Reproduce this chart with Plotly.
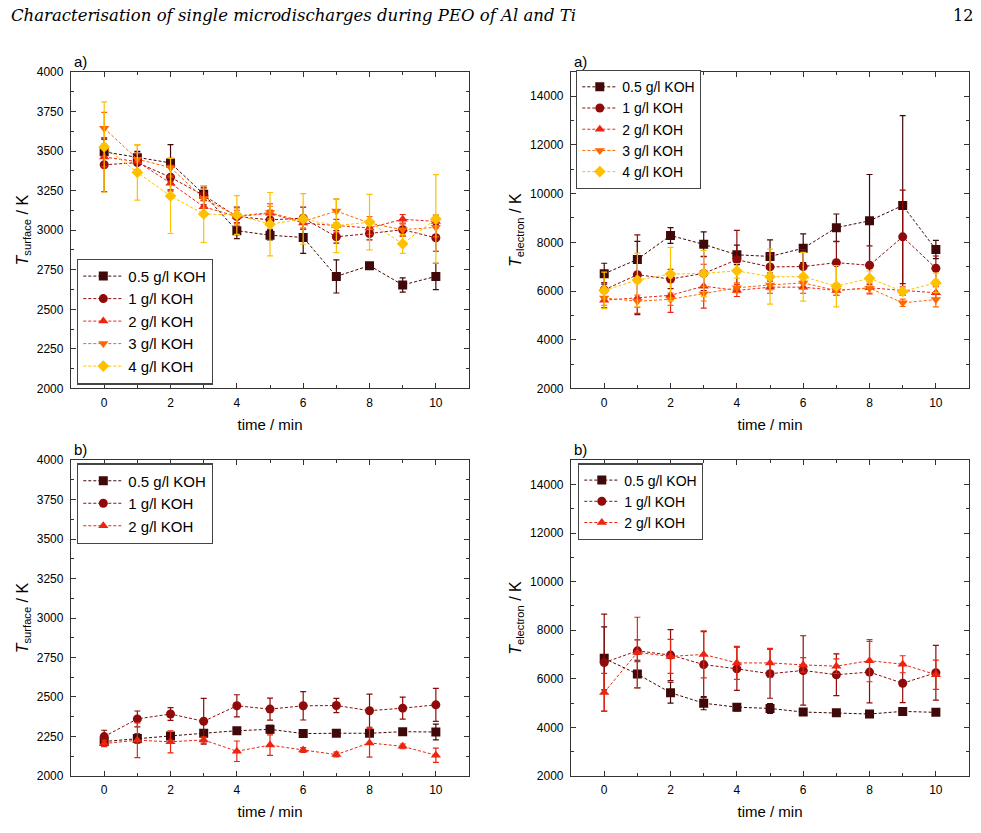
import plotly.graph_objects as go
from plotly.subplots import make_subplots

t = [0, 1, 2, 3, 4, 5, 6, 7, 8, 9, 10]

# a) surface temperature (Al), K
ts05 = [3495, 3458, 3425, 3227, 2997, 2968, 2954, 2708, 2776, 2654, 2708]
ts05_err = [80, 40, 115, 40, 50, 30, 100, 105, 15, 45, 83]
ts1 = [3413, 3427, 3334, 3220, 3086, 3065, 3076, 2958, 2979, 3003, 2952]
ts1_err = [170, 60, 80, 60, 60, 60, 70, 40, 40, 40, 85]
ts2 = [3462, 3433, 3297, 3148, 3086, 3107, 3045, 3028, 3014, 3069, 3055]
ts2_err = [60, 50, 50, 40, 40, 60, 40, 40, 40, 30, 40]
ts3 = [3644, 3448, 3396, 3200, 3090, 3111, 3055, 3121, 3045, 3003, 3018]
ts3_err = [100, 90, 60, 60, 50, 40, 40, 75, 40, 40, 60]
ts4 = [3526, 3365, 3216, 3102, 3096, 3038, 3071, 3028, 3051, 2914, 3071]
ts4_err = [285, 175, 237, 180, 122, 200, 160, 170, 175, 60, 280]

# a) electron temperature (Al), K
te05 = [6711, 7301, 8281, 7918, 7489, 7422, 7757, 8603, 8885, 9515, 7704]
te05_err = [430, 740, 320, 510, 400, 680, 590, 560, 1900, 3690, 375]
te1 = [6050, 6670, 6496, 6724, 7288, 6992, 7006, 7167, 7059, 8227, 6939]
te1_err = [300, 1640, 400, 700, 1200, 500, 700, 860, 800, 1920, 500]
te2 = [5623, 5717, 5825, 6200, 6026, 6160, 6160, 6026, 6133, 6026, 5932]
te2_err = [300, 630, 700, 900, 250, 250, 250, 200, 250, 150, 250]
te3 = [5717, 5583, 5663, 5892, 6133, 6254, 6335, 6026, 6120, 5516, 5650]
te3_err = [300, 250, 250, 300, 200, 200, 250, 200, 200, 150, 300]
te4 = [6026, 6455, 6697, 6724, 6831, 6590, 6590, 6200, 6523, 5986, 6335]
te4_err = [750, 1100, 1100, 950, 300, 1130, 1000, 850, 300, 150, 400]

# b) surface temperature (Ti), K
tsb05 = [2218, 2237, 2253, 2270, 2286, 2295, 2268, 2270, 2270, 2280, 2278]
tsb05_err = [30, 30, 20, 20, 20, 25, 25, 20, 20, 15, 50]
tsb1 = [2249, 2361, 2392, 2346, 2444, 2423, 2444, 2446, 2413, 2429, 2450]
tsb1_err = [40, 50, 40, 145, 70, 70, 90, 45, 105, 70, 105]
tsb2 = [2205, 2226, 2216, 2228, 2156, 2195, 2164, 2135, 2209, 2187, 2131]
tsb2_err = [20, 110, 70, 20, 65, 65, 15, 15, 90, 15, 45]

# b) electron temperature (Ti), K
teb05 = [6840, 6193, 5425, 4993, 4831, 4777, 4629, 4602, 4548, 4656, 4616]
teb05_err = [1300, 570, 430, 270, 150, 200, 80, 60, 60, 80, 80]
teb1 = [6665, 7150, 6975, 6584, 6409, 6207, 6342, 6166, 6274, 5816, 6247]
teb1_err = [2000, 450, 1050, 1360, 890, 1010, 1430, 860, 1270, 800, 1130]
teb2 = [5438, 7083, 6921, 7002, 6652, 6652, 6571, 6517, 6746, 6598, 6166]
teb2_err = [780, 1450, 700, 970, 680, 600, 300, 300, 870, 350, 600]

names = ["0.5 g/l KOH", "1 g/l KOH", "2 g/l KOH", "3 g/l KOH", "4 g/l KOH"]
colors = ["#400808", "#8f0a0a", "#ec2410", "#ff6600", "#ffc000"]
symbols = ["square", "circle", "triangle-up", "triangle-down", "diamond"]

panels = [
    (1, 1, "legend", [(ts05, ts05_err), (ts1, ts1_err), (ts2, ts2_err), (ts3, ts3_err), (ts4, ts4_err)]),
    (1, 2, "legend2", [(te05, te05_err), (te1, te1_err), (te2, te2_err), (te3, te3_err), (te4, te4_err)]),
    (2, 1, "legend3", [(tsb05, tsb05_err), (tsb1, tsb1_err), (tsb2, tsb2_err)]),
    (2, 2, "legend4", [(teb05, teb05_err), (teb1, teb1_err), (teb2, teb2_err)]),
]

fig = make_subplots(rows=2, cols=2)

for row, col, leg, series in panels:
    for i, (y, err) in enumerate(series):
        fig.add_trace(go.Scatter(
            x=t, y=y, name=names[i], legend=leg, mode="lines+markers",
            line=dict(color=colors[i], width=1, dash="3px,2px"),
            marker=dict(symbol=symbols[i], size=9, color=colors[i]),
            error_y=dict(type="data", array=err, color=colors[i], thickness=1.2, width=3),
        ), row=row, col=col)

font = "Liberation Sans, Arial, sans-serif"
axis_style = dict(showline=True, linecolor="#333", linewidth=1.3, mirror="allticks",
                  ticks="inside", ticklen=5, tickcolor="#333", showgrid=False, zeroline=False,
                  tickfont=dict(family=font, size=12, color="black"))

xdom = [[0.0724, 0.4781], [0.5821, 0.9878]]
ydom = [[0.5342, 0.9208], [0.0612, 0.4466]]
ytitles = ["<i>T</i><sub>surface</sub> / K", "<i>T</i><sub>electron</sub> / K"]

for row in (1, 2):
    for col in (1, 2):
        fig.update_xaxes(axis_style, domain=xdom[col - 1], range=[-1, 11], dtick=2, tick0=0,
                         ticklabelstandoff=3,
                         minor=dict(ticks="inside", ticklen=3, dtick=1, tickcolor="#333"),
                         title=dict(text="time / min", font=dict(family=font, size=15, color="black"), standoff=10),
                         row=row, col=col)
        if col == 1:
            yopts = dict(range=[2000, 4000], dtick=250, tick0=2000,
                         minor=dict(ticks="inside", ticklen=3, dtick=125, tickcolor="#333"))
        else:
            yopts = dict(range=[2000, 15000], dtick=2000, tick0=2000, tickformat="d",
                         minor=dict(ticks="inside", ticklen=3, dtick=1000, tickcolor="#333"))
        fig.update_yaxes(axis_style, domain=ydom[row - 1], ticklabelstandoff=4, **yopts,
                         title=dict(text=ytitles[col - 1], font=dict(family=font, size=16, color="black"), standoff=4),
                         row=row, col=col)

legend_style = dict(bgcolor="white", bordercolor="#444", borderwidth=1.3, tracegroupgap=0, xanchor="left")
fig.update_layout(
    width=981, height=833, margin=dict(l=0, r=0, t=0, b=0),
    plot_bgcolor="white", paper_bgcolor="white",
    legend=dict(legend_style, x=77 / 981, y=1 - 384 / 833, yanchor="bottom", itemwidth=40,
                font=dict(family=font, size=15, color="black")),
    legend2=dict(legend_style, x=576 / 981, y=1 - 64 / 833, yanchor="top", itemwidth=35,
                 font=dict(family=font, size=14, color="black")),
    legend3=dict(legend_style, x=77 / 981, y=1 - 464 / 833, yanchor="top", itemwidth=40,
                 font=dict(family=font, size=15, color="black")),
    legend4=dict(legend_style, x=578 / 981, y=1 - 464 / 833, yanchor="top", itemwidth=35,
                 font=dict(family=font, size=14, color="black")),
)

fig.add_annotation(text="<i>Characterisation of single microdischarges during PEO of Al and Ti</i>",
                   x=9 / 981, y=1 - 9 / 833, xref="paper", yref="paper", xanchor="left", yanchor="middle",
                   showarrow=False, font=dict(family="DejaVu Serif, serif", size=16.5, color="black"))
fig.add_annotation(text="12", x=975 / 981, y=1 - 9 / 833, xref="paper", yref="paper", xanchor="right",
                   yanchor="middle", showarrow=False, font=dict(family="DejaVu Serif, serif", size=16, color="black"))
for lbl, px, py in [("a)", 72, 55), ("a)", 572, 55), ("b)", 72, 450), ("b)", 572, 450)]:
    fig.add_annotation(text=lbl, x=px / 981, y=1 - py / 833, xref="paper", yref="paper", xanchor="left",
                       yanchor="middle", showarrow=False, font=dict(family=font, size=15, color="black"))

# page body has a default margin; drop it so the figure fills the window
fig.write_html("out.html", config={"displayModeBar": False},
               post_script="document.body.style.margin='0px';")
